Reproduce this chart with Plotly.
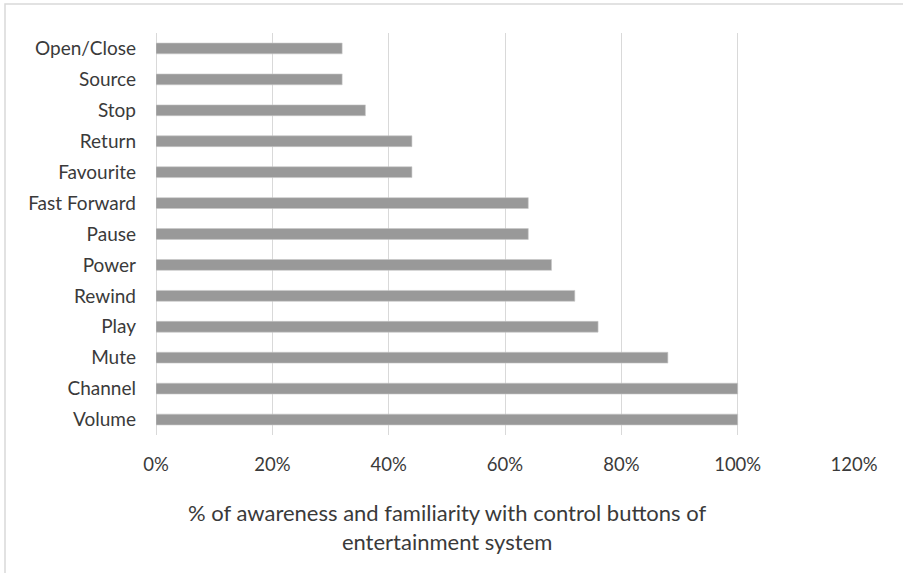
import plotly.graph_objects as go

# Control buttons, listed bottom to top
buttons = ["Volume", "Channel", "Mute", "Play", "Rewind", "Power", "Pause",
           "Fast Forward", "Favourite", "Return", "Stop", "Source", "Open/Close"]
awareness_pct = [100, 100, 88, 76, 72, 68, 64, 64, 44, 44, 36, 32, 32]
x_ticks = [0, 20, 40, 60, 80, 100, 120]

W, H = 903, 573
L, R, T, B = 156, 49, 33, 138
pw, ph = W - L - R, H - T - B

def px_x(x):
    return (x - L) / pw

def px_y(y):
    return (H - B - y) / ph

FONT = "Lato"
TXT = "#3a3a3a"

fig = go.Figure(go.Bar(
    x=awareness_pct,
    y=buttons,
    orientation="h",
    marker=dict(color="#999999", line=dict(color="#c8c8c8", width=0.6)),
    width=0.35,
    hoverinfo="x+y",
))

fig.update_layout(
    width=W, height=H,
    margin=dict(l=L, r=R, t=T, b=B, pad=0),
    paper_bgcolor="white",
    plot_bgcolor="white",
    showlegend=False,
    font=dict(family=FONT, color=TXT, size=19),
    xaxis=dict(
        range=[0, 120],
        tickvals=x_ticks,
        ticktext=[f"{v}%" for v in x_ticks],
        showgrid=True, gridcolor="#d9d9d9", gridwidth=1.2,
        zeroline=True, zerolinecolor="#d9d9d9", zerolinewidth=1.2,
        showline=False, ticks="",
        ticklabelstandoff=16,
        tickfont=dict(family=FONT, size=18.5, color=TXT),
        fixedrange=True,
    ),
    yaxis=dict(
        type="category",
        categoryorder="array", categoryarray=buttons,
        range=[-0.5, len(buttons) - 0.5],
        showgrid=False, zeroline=False, showline=False, ticks="",
        ticklabelstandoff=19,
        tickfont=dict(family=FONT, size=19, color=TXT),
        fixedrange=True,
    ),
    annotations=[dict(
        text="% of awareness and familiarity with control buttons of<br>entertainment system",
        xref="paper", yref="paper",
        x=px_x(447), y=px_y(526.5),
        xanchor="center", yanchor="middle",
        showarrow=False,
        font=dict(family=FONT, size=22, color=TXT),
    )],
    shapes=[dict(
        type="rect", xref="paper", yref="paper",
        x0=px_x(5), y0=px_y(H + 20), x1=px_x(W + 20), y1=px_y(4),
        line=dict(color="#d9d9d9", width=1.5),
        fillcolor="rgba(0,0,0,0)", layer="below",
    )],
)

fig.write_html("out.html", config={"displayModeBar": False})
